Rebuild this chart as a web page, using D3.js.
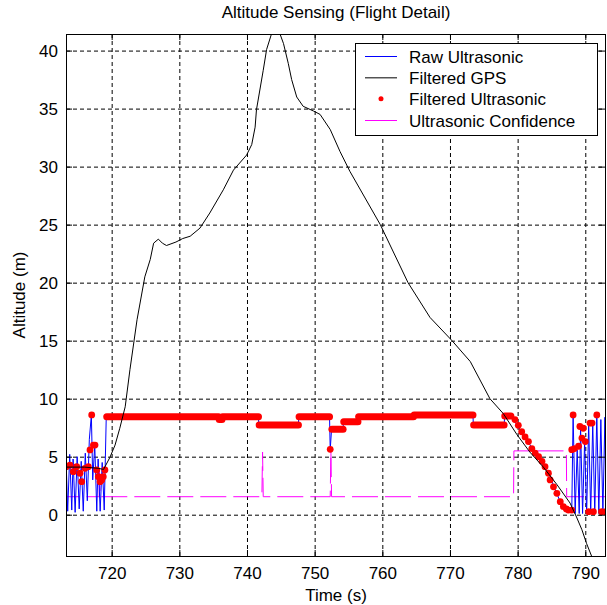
<!DOCTYPE html>
<meta charset="utf-8">
<script src="https://d3js.org/d3.v7.min.js"></script>
<style>
body { margin: 0; background: #fff; }
text { font-family: "Liberation Sans", Arial, sans-serif; fill: #000; }
</style>
<body>
<div id="chart"></div>
<script>

// ---- data ----
var xTicks = [720, 730, 740, 750, 760, 770, 780, 790]
var yTicks = [0, 5, 10, 15, 20, 25, 30, 35, 40]
var xDomain = [713.25, 793.06]
var yDomain = [-3.56, 41.43]

var legendLabels = ["Raw Ultrasonic", "Filtered GPS", "Filtered Ultrasonic", "Ultrasonic Confidence"]

// [time, altitude]
var rawUltrasonic = [
  [713.3,4.0],[713.5,0.3],[713.8,5.2],[714.1,0.4],[714.3,4.8],[714.6,0.2],[714.9,5.0],[715.2,0.5],
  [715.5,4.6],[715.8,0.3],[716.1,5.3],[716.4,1.2],[716.7,6.5],[717.0,8.6],[717.2,3.0],[717.5,6.0],
  [717.8,0.3],[718.0,4.8],[718.3,0.3],[718.6,4.5],[718.9,0.4],[719.2,8.45],
  [741.7,8.45],[741.75,7.6],[747.6,7.73],[747.65,8.45],[752.2,8.45],[752.3,5.6],[752.5,7.36],
  [754.2,7.36],[754.25,8.0],[756.4,8.0],[756.45,8.45],[764.6,8.45],[764.65,8.6],[773.4,8.6],
  [773.45,7.73],[778.0,7.73],[778.1,8.6],[779.0,8.5],[780.6,7.15],[782.6,5.3],[784.55,3.6],
  [786.3,1.1],[787.5,0.4],[788.0,0.3],
  [788.2,8.6],[788.5,0.1],[788.8,5.6],[789.1,0.1],[789.3,7.6],[789.6,0.1],[789.9,6.3],[790.2,0.1],
  [790.5,7.9],[790.8,0.1],[791.1,7.9],[791.4,0.1],[791.7,8.6],[792.0,0.1],[792.3,8.2],[792.6,0.1],
  [792.9,8.4],[793.06,0.1]
]

var filteredGPS = [
  [713.25,4.1],[716.0,4.1],[718.0,4.0],[718.8,3.9],[719.75,4.95],[720.5,6.0],[721.2,7.45],[722.0,9.3],
  [722.7,12.5],[723.75,16.8],[724.9,20.5],[725.7,22.0],[726.2,23.4],[726.9,23.75],[727.5,23.4],
  [728.1,23.2],[729.5,23.5],[730.5,23.8],[731.6,24.0],[733.05,24.7],[734.5,26.0],[736.5,28.0],
  [738.0,29.7],[739.95,31.0],[740.7,31.9],[741.2,33.4],[741.4,34.9],[742.4,38.3],[742.9,40.1],
  [743.6,41.4],[744.3,41.6],[744.9,41.4],[745.4,40.6],[746.1,38.9],[746.6,37.5],[747.35,36.0],
  [748.3,35.2],[749.8,34.8],[750.8,34.5],[752.3,33.2],[753.75,31.3],[755.2,29.6],[759.7,25.0],
  [763.8,20.0],[767.05,17.0],[770.3,15.0],[773.0,13.2],[775.9,10.0],[777.9,8.7],[779.9,6.9],
  [781.8,5.4],[783.8,4.1],[785.8,2.6],[787.75,1.0],[788.7,-0.2],[789.5,-1.3],[790.2,-2.5],[790.95,-3.6]
]

// flat stretches of the filtered ultrasonic: [start, end, altitude]
var filteredRuns = [
  [719.27,735.8,8.45],[735.9,736.3,8.2],[736.4,741.7,8.45],[741.8,747.6,7.73],[747.7,752.2,8.45],
  [752.55,754.2,7.36],[754.3,756.4,8.0],[756.5,764.6,8.45],[764.7,773.4,8.6],[773.5,778.0,7.73],
  [778.1,779.0,8.5]
]

// single filtered samples: [time, altitude]
var filteredPoints = [
  [713.3,4.14],[713.84,4.28],[714.33,3.71],[714.83,4.14],[715.32,3.57],[715.57,2.85],[716.06,4.0],
  [716.55,4.14],[716.8,5.58],[717.05,8.6],[717.3,6.0],[717.54,6.0],[717.79,3.85],[718.03,3.28],
  [718.28,2.85],[718.53,3.0],[718.76,3.28],[719.0,3.85],
  [752.3,5.63],
  [779.6,8.2],[780.1,7.7],[780.6,7.15],[781.1,6.7],[781.6,6.3],[782.1,5.7],[782.6,5.3],[783.1,5.0],
  [783.6,4.6],[784.05,4.14],[784.55,3.57],[784.8,3.0],[785.3,2.4],[785.8,1.84],[786.3,1.12],
  [786.75,0.69],[787.2,0.5],[787.5,0.4],[788.0,0.4],
  [788.2,8.6],[788.0,5.6],[788.4,5.7],[789.0,5.9],[789.2,7.6],[789.5,6.6],[789.7,7.45],[790.0,6.3],
  [790.5,0.26],[790.7,7.9],[791.0,7.9],[791.2,0.26],[791.7,8.6],[792.4,0.26],[793.0,0.26]
]

var confidence = [
  [713.25,5.5],[713.3,1.55],[718.15,1.55],[718.2,3.8],[718.3,1.55],[742.2,1.55],[742.3,5.4],
  [742.4,1.55],[752.3,1.55],[752.4,5.5],[752.5,1.55],[779.4,1.55],[779.45,5.5],[787.2,5.5],
  [787.25,1.55],[793.06,1.55]
]

// ---- layout ----
var W = 607, H = 605
var pLeft = 66, pRight = 606, pTop = 34, pBottom = 556

var svg = d3.select("#chart").append("svg")
  .attr("width", W).attr("height", H)
  .style("font-size", "17px")

var x = d3.scaleLinear().domain(xDomain).range([pLeft, pRight])
var y = d3.scaleLinear().domain(yDomain).range([pBottom, pTop])

svg.append("defs").append("clipPath").attr("id", "plotclip")
  .append("rect").attr("x", pLeft).attr("y", pTop)
  .attr("width", pRight - pLeft).attr("height", pBottom - pTop)

// grid
svg.append("g")
  .attr("transform", "translate(0," + pBottom + ")")
  .call(d3.axisBottom(x).tickValues(xTicks).tickSize(-(pBottom - pTop)).tickFormat(""))
  .call(function (g) { g.select(".domain").remove() })
  .selectAll("line").attr("stroke", "#000").attr("stroke-dasharray", "4,3")

svg.append("g")
  .attr("transform", "translate(" + pLeft + ",0)")
  .call(d3.axisLeft(y).tickValues(yTicks).tickSize(-(pRight - pLeft)).tickFormat(""))
  .call(function (g) { g.select(".domain").remove() })
  .selectAll("line").attr("stroke", "#000").attr("stroke-dasharray", "4,3")

// data
var plot = svg.append("g").attr("clip-path", "url(#plotclip)")

var line = d3.line()
  .x(function (d) { return x(d[0]) })
  .y(function (d) { return y(d[1]) })

plot.append("path").datum(confidence)
  .attr("d", line).attr("fill", "none")
  .attr("stroke", "#ff00ff").attr("stroke-width", 1)
  .attr("stroke-dasharray", "26,7")

plot.append("path").datum(rawUltrasonic)
  .attr("d", line).attr("fill", "none")
  .attr("stroke", "#0000ff").attr("stroke-width", 1)

plot.selectAll(".run").data(filteredRuns).enter().append("line")
  .attr("class", "run")
  .attr("x1", function (d) { return x(d[0]) })
  .attr("x2", function (d) { return x(d[1]) })
  .attr("y1", function (d) { return y(d[2]) })
  .attr("y2", function (d) { return y(d[2]) })
  .attr("stroke", "#ff0000").attr("stroke-width", 7)
  .attr("stroke-linecap", "round")

plot.selectAll(".pt").data(filteredPoints).enter().append("circle")
  .attr("class", "pt")
  .attr("cx", function (d) { return x(d[0]) })
  .attr("cy", function (d) { return y(d[1]) })
  .attr("r", 3.4)
  .attr("fill", "#ff0000")

plot.append("path").datum(filteredGPS)
  .attr("d", line).attr("fill", "none")
  .attr("stroke", "#000").attr("stroke-width", 1)

// axes box and ticks
svg.append("rect")
  .attr("x", pLeft + 0.5).attr("y", pTop + 0.5)
  .attr("width", pRight - pLeft - 1).attr("height", pBottom - pTop)
  .attr("fill", "none").attr("stroke", "#000")

var xb = svg.append("g")
  .attr("transform", "translate(0," + pBottom + ")")
  .call(d3.axisBottom(x).tickValues(xTicks).tickSizeInner(-6).tickSizeOuter(0).tickPadding(11))
xb.select(".domain").remove()

var yl = svg.append("g")
  .attr("transform", "translate(" + pLeft + ",0)")
  .call(d3.axisLeft(y).tickValues(yTicks).tickSizeInner(-6).tickSizeOuter(0).tickPadding(8))
yl.select(".domain").remove()

svg.append("g")
  .attr("transform", "translate(0," + pTop + ")")
  .call(d3.axisTop(x).tickValues(xTicks).tickSizeInner(-6).tickSizeOuter(0).tickFormat(""))
  .select(".domain").remove()

svg.append("g")
  .attr("transform", "translate(" + (pRight - 1) + ",0)")
  .call(d3.axisRight(y).tickValues(yTicks).tickSizeInner(-6).tickSizeOuter(0).tickFormat(""))
  .select(".domain").remove()

svg.selectAll(".tick text").attr("font-size", 17).attr("font-family", null)
svg.selectAll(".tick line").filter(function () { return !this.getAttribute("stroke-dasharray") })
  .attr("stroke", "#000")

// titles
svg.append("text").attr("x", (pLeft + pRight) / 2).attr("y", 18)
  .attr("text-anchor", "middle").text("Altitude Sensing (Flight Detail)")

svg.append("text").attr("x", (pLeft + pRight) / 2).attr("y", 601)
  .attr("text-anchor", "middle").text("Time (s)")

svg.append("text")
  .attr("transform", "translate(25," + (pTop + pBottom) / 2 + ") rotate(-90)")
  .attr("text-anchor", "middle").text("Altitude (m)")

// legend
var lg = svg.append("g")
lg.append("rect").attr("x", 355.5).attr("y", 43.5).attr("width", 242).attr("height", 92)
  .attr("fill", "#fff").attr("stroke", "#000")

var rowY = d3.scalePoint().domain(legendLabels).range([56, 120])
var sampleColors = ["#0000ff", "#000", "#ff0000", "#ff00ff"]

legendLabels.forEach(function (lab, i) {
  var cy = rowY(lab)
  if (i === 2) {
    lg.append("circle").attr("cx", 381).attr("cy", cy).attr("r", 2.5).attr("fill", sampleColors[i])
  } else {
    lg.append("line").attr("x1", 365).attr("x2", 397).attr("y1", cy + 0.5).attr("y2", cy + 0.5)
      .attr("stroke", sampleColors[i])
  }
  lg.append("text").attr("x", 409).attr("y", cy + 6.5).text(lab)
})

</script>
</body>
